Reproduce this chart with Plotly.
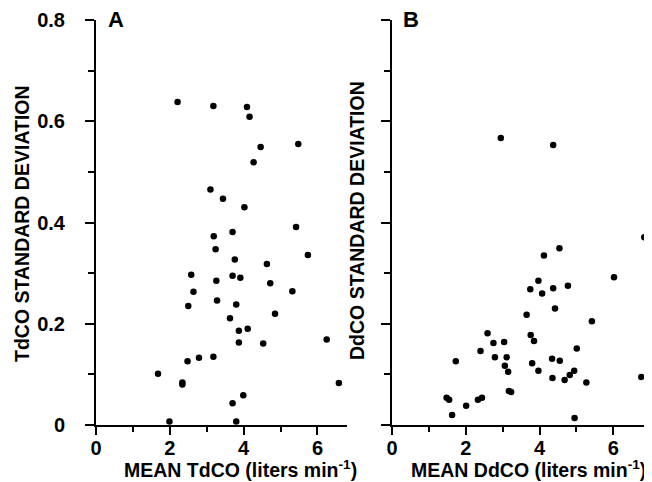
import plotly.graph_objects as go

# Panel A: mean TdCO vs TdCO standard deviation
a_mean = [2.21, 3.18, 4.09, 4.16, 4.46, 5.48, 4.27, 3.10, 3.44, 4.02, 5.42, 3.70,
          3.19, 3.24, 5.74, 3.76, 4.63, 2.58, 3.70, 3.91, 3.26, 4.72, 2.64, 5.32,
          3.28, 2.50, 3.80, 4.85, 3.63, 4.11, 3.87, 3.87, 4.53, 6.25, 2.48, 2.79,
          3.18, 1.68, 2.34, 2.34, 6.58, 3.99, 3.70, 1.99, 3.80]
a_sd = [0.638, 0.630, 0.628, 0.609, 0.549, 0.555, 0.519, 0.465, 0.447, 0.430, 0.391, 0.381,
        0.373, 0.347, 0.336, 0.327, 0.318, 0.297, 0.295, 0.291, 0.285, 0.280, 0.263, 0.264,
        0.246, 0.235, 0.238, 0.220, 0.211, 0.190, 0.186, 0.163, 0.161, 0.169, 0.126, 0.133,
        0.135, 0.101, 0.084, 0.080, 0.083, 0.059, 0.043, 0.007, 0.007]

# Panel B: mean DdCO vs DdCO standard deviation
b_mean = [2.95, 4.37, 6.84, 4.54, 4.12, 6.02, 3.97, 3.75, 4.37, 4.77, 4.07, 4.42,
          3.65, 5.42, 2.59, 3.76, 3.85, 2.75, 3.04, 2.40, 5.01, 1.73, 2.79, 3.11,
          4.34, 4.55, 3.80, 3.06, 3.15, 3.97, 4.94, 4.82, 4.35, 4.68, 5.27, 6.76,
          3.17, 3.23, 1.48, 1.55, 2.33, 2.44, 2.01, 1.63, 4.95]
b_sd = [0.567, 0.553, 0.371, 0.349, 0.335, 0.292, 0.285, 0.268, 0.270, 0.275, 0.260, 0.230,
        0.218, 0.205, 0.181, 0.178, 0.166, 0.162, 0.164, 0.146, 0.151, 0.126, 0.134, 0.134,
        0.131, 0.127, 0.122, 0.117, 0.105, 0.107, 0.107, 0.099, 0.093, 0.089, 0.084, 0.095,
        0.067, 0.065, 0.054, 0.050, 0.050, 0.054, 0.038, 0.020, 0.014]

x_ticks = [0, 2, 4, 6]
y_ticks = [0, 0.2, 0.4, 0.6, 0.8]
y_tick_labels = ["0", "0.2", "0.4", "0.6", "0.8"]

FONT = "Liberation Sans"
W, H = 652, 482
OFF = 8  # page body margin offset


def fx(px):
    return (px - OFF) / W


def fy(py):
    return 1 - (py - OFF) / H


fig = go.Figure()
fig.add_trace(go.Scatter(x=a_mean, y=a_sd, mode="markers", xaxis="x", yaxis="y", cliponaxis=False,
                         marker=dict(color="black", size=6.5), showlegend=False))
fig.add_trace(go.Scatter(x=b_mean, y=b_sd, mode="markers", xaxis="x2", yaxis="y2", cliponaxis=False,
                         marker=dict(color="black", size=6.5), showlegend=False))

ydom = [fy(425), fy(20)]
tickfont = dict(family=FONT, size=20, color="black", weight="bold")

common_x = dict(showgrid=False, zeroline=False, showline=True, linecolor="black", linewidth=2,
                ticks="outside", ticklen=8, tickwidth=1.5, tickcolor="black",
                tickvals=x_ticks, ticktext=[str(v) for v in x_ticks], tickfont=tickfont,
                ticklabelstandoff=-4,
                minor=dict(dtick=1, tick0=0, ticks="outside", ticklen=5, tickwidth=1.5, tickcolor="black"))
common_y = dict(showgrid=False, zeroline=False, showline=True, linecolor="black", linewidth=2,
                ticks="outside", ticklen=9, tickwidth=1.5, tickcolor="black",
                range=[0, 0.8], tickvals=y_ticks, tickfont=tickfont, domain=ydom,
                minor=dict(dtick=0.1, tick0=0, ticks="outside", ticklen=6, tickwidth=1.5, tickcolor="black"))

fig.update_layout(
    width=W, height=H, margin=dict(l=0, r=0, t=0, b=0, autoexpand=False),
    paper_bgcolor="white", plot_bgcolor="white",
    xaxis=dict(common_x, range=[0, 6.8], domain=[fx(96), fx(347)], anchor="y"),
    yaxis=dict(common_y, ticktext=y_tick_labels, anchor="x", ticklabelstandoff=16),
    xaxis2=dict(common_x, range=[0, 7.05], domain=[fx(392), fx(652)], anchor="y2"),
    yaxis2=dict(common_y, showticklabels=False, anchor="x2"),
)

title_font = dict(family=FONT, size=19.5, color="black", weight="bold")
ann = [
    dict(text="A", x=fx(116), y=fy(19), font=dict(family=FONT, size=22, color="black", weight="bold")),
    dict(text="B", x=fx(411), y=fy(19), font=dict(family=FONT, size=22, color="black", weight="bold")),
    dict(text="MEAN TdCO (liters min<sup>-1</sup>)", x=fx(240), y=fy(469), font=title_font),
    dict(text="MEAN DdCO (liters min<sup>-1</sup>)", x=fx(528), y=fy(469), font=title_font),
    dict(text="TdCO STANDARD DEVIATION", x=fx(22), y=fy(224), textangle=-90, font=title_font),
    dict(text="DdCO STANDARD DEVIATION", x=fx(357), y=fy(221), textangle=-90, font=title_font),
]
for a in ann:
    fig.add_annotation(xref="paper", yref="paper", xanchor="center", yanchor="middle",
                       showarrow=False, **a)

fig.write_html("out.html")
